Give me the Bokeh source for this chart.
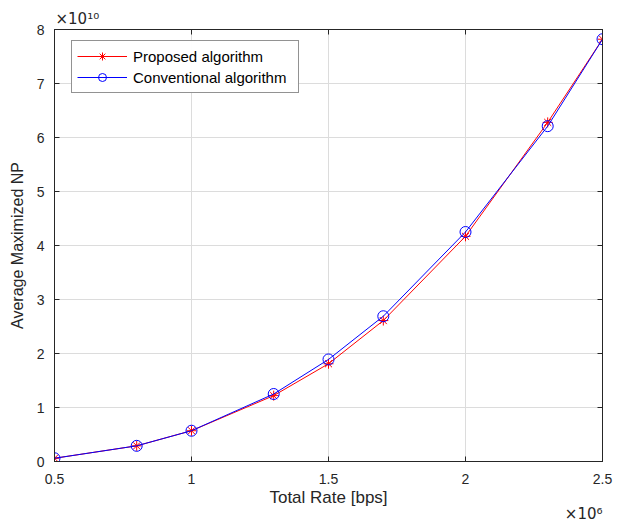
from bokeh.plotting import figure
from bokeh.models import LinearAxis, FixedTicker, Legend, LegendItem, Range1d, Title
from bokeh.embed import file_html
from bokeh.resources import INLINE

# Data (x in units of 1e6 bps, y in units of 1e10)
rate = [0.5, 0.8, 1.0, 1.3, 1.5, 1.7, 2.0, 2.3, 2.5]
proposed = [0.06, 0.29, 0.57, 1.22, 1.81, 2.61, 4.17, 6.28, 7.82]
conventional = [0.06, 0.29, 0.57, 1.25, 1.89, 2.69, 4.25, 6.21, 7.82]
x_ticks = [0.5, 1.0, 1.5, 2.0, 2.5]
x_tick_labels = ["0.5", "1", "1.5", "2", "2.5"]
y_ticks = [0, 1, 2, 3, 4, 5, 6, 7, 8]
y_tick_labels = ["0", "1", "2", "3", "4", "5", "6", "7", "8"]

FONT = "Liberation Sans"
EXP_FONT = "DejaVu Sans"
DARK = "#262626"

p = figure(frame_width=548, frame_height=432, output_backend="svg", toolbar_location=None,
           x_range=Range1d(0.5, 2.5), y_range=Range1d(0, 8),
           min_border_top=29, min_border_right=22, min_border_left=54, min_border_bottom=58)
p.background_fill_color = "white"
p.border_fill_color = "white"
p.outline_line_color = DARK
p.outline_line_width = 1

def style_axis(ax):
    ax.axis_line_color = DARK
    ax.major_tick_line_color = DARK
    ax.major_tick_in = 5
    ax.major_tick_out = 0
    ax.minor_tick_line_color = None
    ax.major_label_text_font = FONT
    ax.major_label_text_font_size = "14px"
    ax.major_label_text_color = DARK
    ax.axis_label_text_font = FONT
    ax.axis_label_text_font_size = "16px"
    ax.axis_label_text_font_style = "normal"
    ax.axis_label_text_color = DARK

p.xaxis.ticker = FixedTicker(ticks=x_ticks)
p.yaxis.ticker = FixedTicker(ticks=y_ticks)
p.xaxis.major_label_overrides = {t: l for t, l in zip(x_ticks, x_tick_labels)}
p.yaxis.major_label_overrides = {t: l for t, l in zip(y_ticks, y_tick_labels)}
p.xaxis.axis_label = "Total Rate [bps]"
p.yaxis.axis_label = "Average Maximized NP"
style_axis(p.xaxis[0])
style_axis(p.yaxis[0])
p.xaxis.axis_label_text_font_size = "17px"
p.xaxis.major_label_standoff = 12
p.yaxis.major_label_standoff = 10
p.xaxis.axis_label_standoff = 1
p.yaxis.axis_label_standoff = 8

# mirrored tick marks (box style) on top and right
top_ax = LinearAxis(ticker=FixedTicker(ticks=x_ticks),
                    major_label_overrides={t: "" for t in x_ticks})
right_ax = LinearAxis(ticker=FixedTicker(ticks=y_ticks),
                      major_label_overrides={t: "" for t in y_ticks})
style_axis(top_ax)
style_axis(right_ax)
top_ax.major_label_standoff = 0
right_ax.major_label_standoff = 0
p.add_layout(top_ax, "above")
p.add_layout(right_ax, "right")

p.xgrid.ticker = FixedTicker(ticks=x_ticks)
p.ygrid.ticker = FixedTicker(ticks=y_ticks)
p.grid.grid_line_color = "#dcdcdc"
p.grid.grid_line_width = 1

r1 = p.line(rate, proposed, line_color="#ff0000", line_width=1)
m1 = p.scatter(rate, proposed, marker="asterisk", size=10, line_color="#ff0000", line_width=1)
r2 = p.line(rate, conventional, line_color="#0000ff", line_width=1)
m2 = p.scatter(rate, conventional, marker="circle", size=11, fill_color=None, line_color="#0000ff", line_width=1)

legend = Legend(items=[LegendItem(label="Proposed algorithm", renderers=[r1, m1]),
                       LegendItem(label="Conventional algorithm", renderers=[r2, m2])],
                location=(17, 368))
legend.label_text_font = FONT
legend.label_text_font_size = "15px"
legend.label_text_color = "#000000"
legend.border_line_color = DARK
legend.border_line_width = 1
legend.glyph_width = 50
legend.glyph_height = 20
legend.label_width = 160
legend.spacing = 1
legend.padding = 5
legend.margin = 0
legend.label_standoff = 6
legend.label_height = 20
p.add_layout(legend, "center")

p.add_layout(Title(text="×10¹⁰", text_font=EXP_FONT, text_font_size="15px",
                   text_font_style="normal", text_color=DARK, align="left",
                   offset=1, standoff=4), "above")
p.add_layout(Title(text="×10⁶", text_font=EXP_FONT, text_font_size="15px",
                   text_font_style="normal", text_color=DARK, align="right",
                   offset=0, standoff=-26), "below")

open("out.html", "w").write(file_html(p, INLINE))
